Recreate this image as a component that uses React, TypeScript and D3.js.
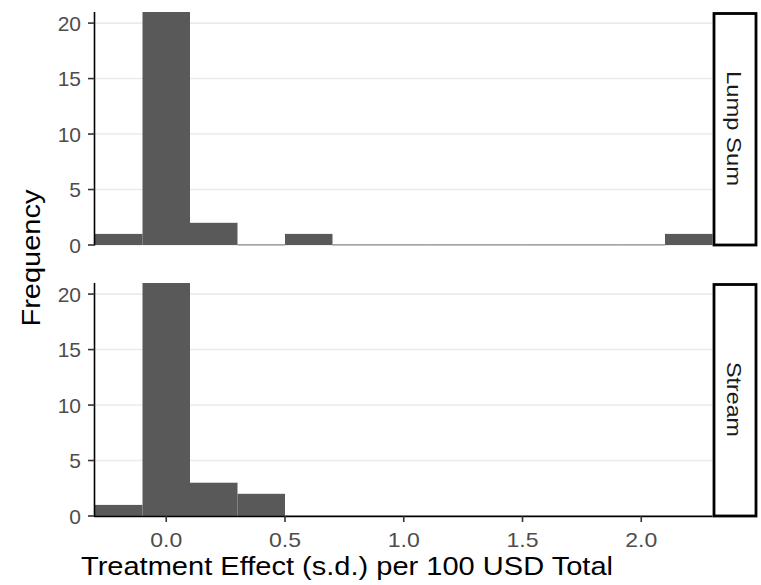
import React from "react";
import * as d3 from "d3";

// Histogram bin edges (s.d. per 100 USD)
const binEdges = [-0.3, -0.1, 0.1, 0.3, 0.5, 0.7, 0.9, 1.1, 1.3, 1.5, 1.7, 1.9, 2.1, 2.3];
// Counts per bin for each transfer type
const lumpSumCounts = [1, 21, 2, 0, 1, 0, 0, 0, 0, 0, 0, 0, 1];
const streamCounts = [1, 21, 3, 2, 0, 0, 0, 0, 0, 0, 0, 0, 0];
const panelNames = ["Lump Sum", "Stream"];
const xTicks = [0.0, 0.5, 1.0, 1.5, 2.0];
const yTicks = [0, 5, 10, 15, 20];

const W = 761;
const H = 585;
const FONT = "'Liberation Sans', Arial, Helvetica, sans-serif";

const xLeft = 95;
const xRight = 712.5;
const panels = [
  { name: panelNames[0], counts: lumpSumCounts, top: 12, bottom: 245, axis: false },
  { name: panelNames[1], counts: streamCounts, top: 283, bottom: 516, axis: true },
];

export default function App() {
  const x = d3.scaleLinear().domain([-0.3, 2.3]).range([xLeft, xRight]);
  const bins = d3.range(binEdges.length - 1).map((i) => ({ x0: binEdges[i], x1: binEdges[i + 1] }));

  return (
    <svg width={W} height={H} style={{ display: "block", position: "absolute", left: 0, top: 0 }}>
      <rect x={0} y={0} width={W} height={H} fill="#ffffff" />
      {panels.map((p) => {
        const y = d3.scaleLinear().domain([0, 21]).range([p.bottom, p.top]);
        return (
          <g key={p.name}>
            {/* horizontal grid */}
            {yTicks.map((t) => (
              <line key={t} x1={xLeft} x2={xRight} y1={y(t)} y2={y(t)} stroke="#ebebeb" strokeWidth={1.6} />
            ))}
            {/* bars */}
            {bins.map((b, i) => {
              const c = p.counts[i];
              const x0 = x(b.x0);
              const w = x(b.x1) - x0;
              if (c === 0) {
                return <rect key={i} x={x0} y={y(0) - 0.6} width={w} height={1} fill="#595959" opacity={0.8} />;
              }
              return <rect key={i} x={x0} y={y(c)} width={w} height={y(0) - y(c)} fill="#595959" />;
            })}
            {/* y axis */}
            <line x1={xLeft - 0.5} x2={xLeft - 0.5} y1={p.top} y2={p.bottom + 0.5} stroke="#000" strokeWidth={1.6} />
            {yTicks.map((t) => (
              <g key={t}>
                <line x1={88} x2={xLeft - 0.5} y1={y(t)} y2={y(t)} stroke="#333" strokeWidth={1.6} />
                <text x={81} y={y(t)} dy="0.36em" textAnchor="end" fontSize={21} fill="#4d4d4d" fontFamily={FONT}>
                  {String(t)}
                </text>
              </g>
            ))}
            {/* x axis on bottom panel only */}
            {p.axis && (
              <g>
                <line x1={xLeft - 1} x2={xRight} y1={p.bottom + 0.5} y2={p.bottom + 0.5} stroke="#000" strokeWidth={1.6} />
                {xTicks.map((t) => (
                  <g key={t}>
                    <line x1={x(t)} x2={x(t)} y1={p.bottom} y2={p.bottom + 6} stroke="#333" strokeWidth={1.6} />
                    <text x={x(t)} y={547} textAnchor="middle" fontSize={21} fill="#4d4d4d" fontFamily={FONT}
                      textLength={32} lengthAdjust="spacingAndGlyphs">
                      {t.toFixed(1)}
                    </text>
                  </g>
                ))}
              </g>
            )}
            {/* facet strip */}
            <rect x={714} y={p.top + 1.5} width={42} height={p.bottom - p.top - 1.5} fill="#fff" stroke="#000" strokeWidth={2.8} />
            <text
              transform={`translate(727,${(p.top + p.bottom) / 2}) rotate(90)`}
              textAnchor="middle"
              fontSize={21}
              fill="#1a1a1a"
              fontFamily={FONT}
              textLength={p.name === "Lump Sum" ? 115 : 75}
              lengthAdjust="spacingAndGlyphs"
            >
              {p.name}
            </text>
          </g>
        );
      })}
      {/* axis titles */}
      <text transform="translate(40,258) rotate(-90)" textAnchor="middle" fontSize={26} fill="#000" fontFamily={FONT}
        textLength={137} lengthAdjust="spacingAndGlyphs">
        Frequency
      </text>
      <text x={81} y={575} fontSize={26} fill="#000" fontFamily={FONT} textLength={532} lengthAdjust="spacingAndGlyphs">
        Treatment Effect (s.d.) per 100 USD Total
      </text>
    </svg>
  );
}
